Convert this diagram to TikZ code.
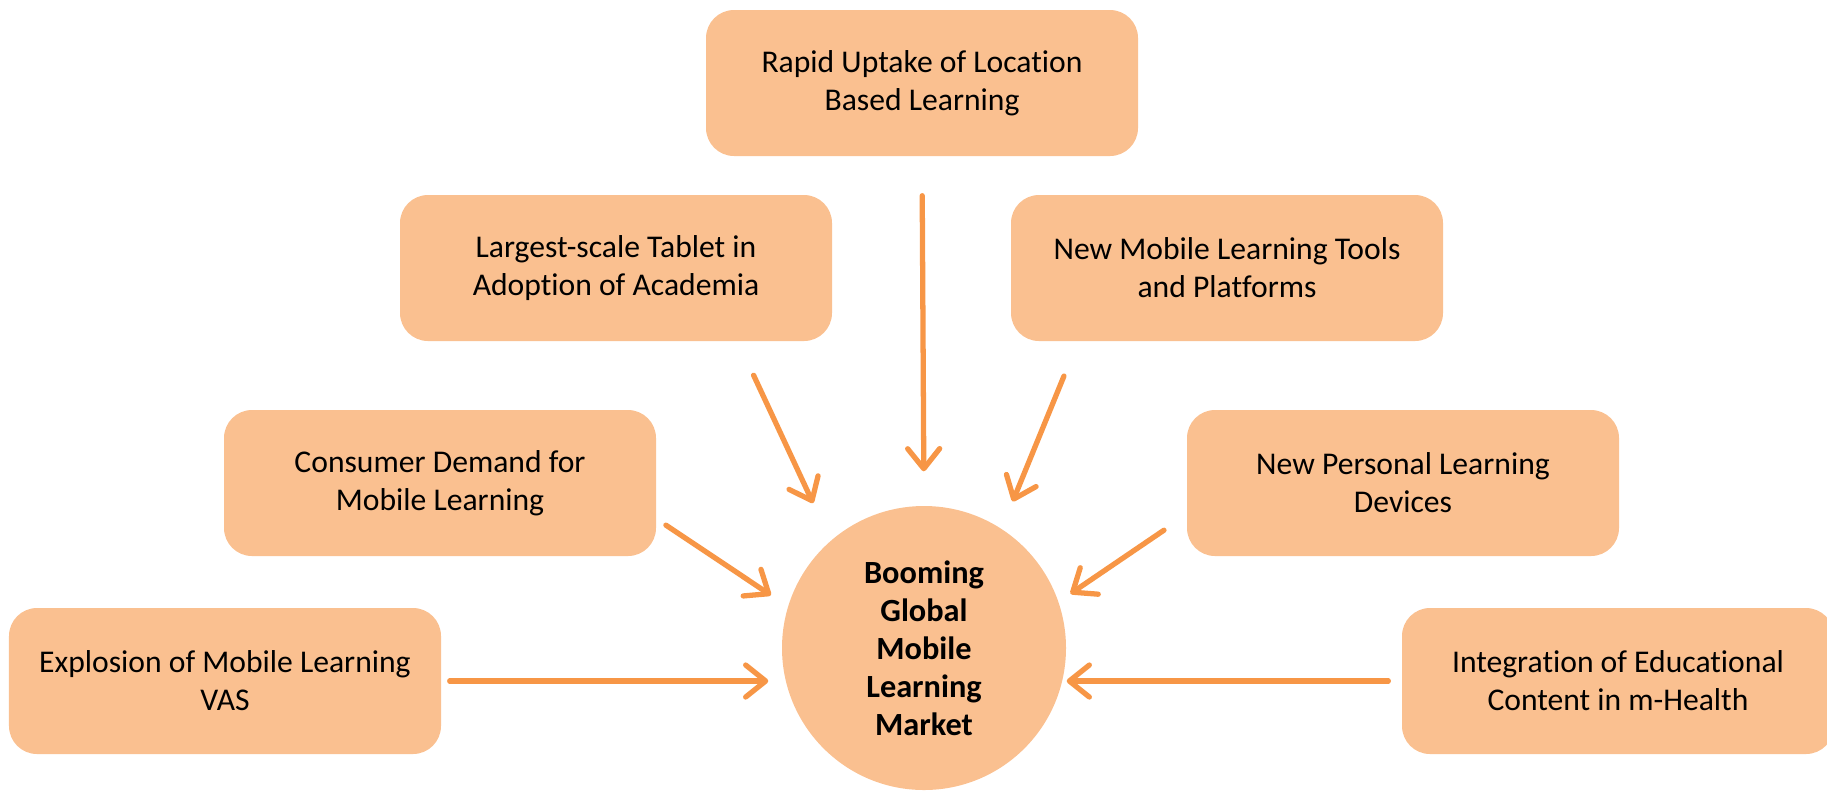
\documentclass[tikz,border=0pt]{standalone}
\usepackage{fontspec}
\setmainfont{Carlito}[RawFeature={-liga;-clig;-calt}]
\usepackage{xcolor}
\usetikzlibrary{arrows.meta,shapes.geometric}

\definecolor{boxfill}{HTML}{FAC090}
\definecolor{arrowc}{HTML}{F79646}

\begin{document}
\begin{tikzpicture}[font=\fontsize{9}{10.8}\selectfont,
    box/.style={rectangle, rounded corners=0.28cm, fill=boxfill, align=center,
                minimum width=4.32cm, minimum height=1.46cm, inner sep=0pt},
    hub/.style={circle, fill=boxfill, align=center, minimum size=2.84cm,
                inner sep=0pt, font=\fontsize{9.2}{10.8}\selectfont\bfseries},
    every edge/.style={draw=arrowc, line width=1.5pt, line cap=round,
                -{Straight Barb[length=2mm,width=3.2mm,round]}}]
  \useasboundingbox (0,0) rectangle (18.27,-7.93);

  \node[hub] (hub)      at (9.24,-6.48)  {Booming\\Global\\Mobile\\Learning\\Market};
  \node[box] (rapid)    at (9.22,-0.83)  {Rapid Uptake of Location\\Based Learning};
  \node[box] (tab)      at (6.16,-2.68)  {Largest-scale Tablet in\\Adoption of Academia};
  \node[box] (tools)    at (12.27,-2.68) {New Mobile Learning Tools\\and Platforms};
  \node[box] (demand)   at (4.40,-4.83)  {Consumer Demand for\\Mobile Learning};
  \node[box] (personal) at (14.03,-4.83) {New Personal Learning\\Devices};
  \node[box] (vas)      at (2.25,-6.81)  {Explosion of Mobile Learning\\VAS};
  \node[box] (health)   at (16.18,-6.81) {Integration of Educational\\Content in m-Health};

  \path (rapid.south)                    edge [shorten <=3.9mm, shorten >=3.4mm] (hub.north)
        ([xshift=1.22cm]tab.south)       edge [shorten <=3.7mm, shorten >=4.1mm] (hub.131)
        ([xshift=-1.49cm]tools.south)    edge [shorten <=3.7mm, shorten >=2.9mm] (hub.57)
        ([yshift=-0.36cm]demand.east)    edge [shorten <=1.1mm, shorten >=2.0mm] (hub.163)
        ([yshift=-0.32cm]personal.west)  edge [shorten <=2.7mm, shorten >=1.4mm] (hub.19)
        (vas.east)                       edge [shorten <=0.8mm, shorten >=1.3mm] (vas.east -| hub.west)
        (health.west)                    edge [shorten <=1.3mm]                  (health.west -| hub.east)
        ;
\end{tikzpicture}
\end{document}
